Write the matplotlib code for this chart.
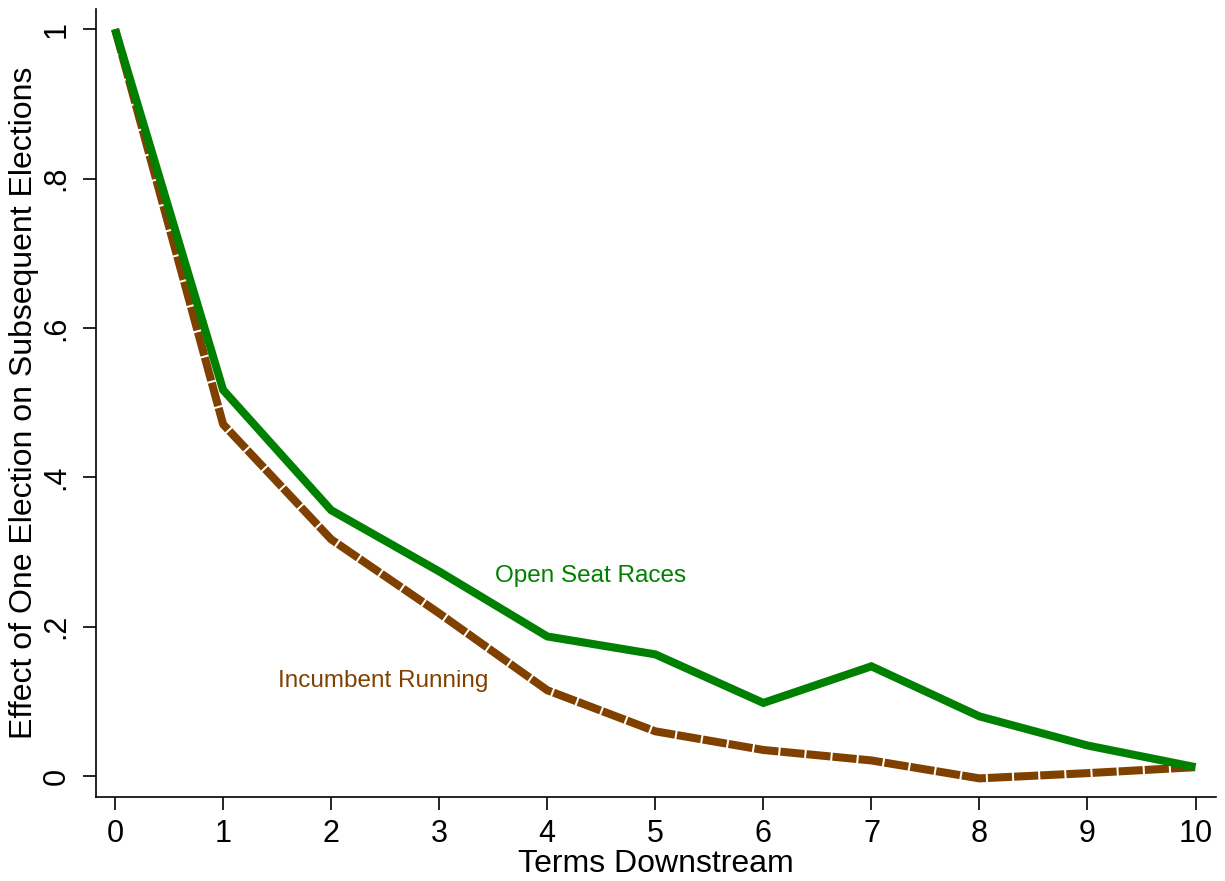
import numpy as np
import matplotlib.pyplot as plt

plt.rcParams['font.family'] = ['Liberation Sans', 'DejaVu Sans']

# Terms downstream and estimated effects
terms = np.arange(0, 11)
open_seat = [1.0, 0.517, 0.356, 0.274, 0.187, 0.163, 0.098, 0.147, 0.080, 0.041, 0.012]
incumbent = [1.0, 0.471, 0.317, 0.218, 0.115, 0.060, 0.035, 0.021, -0.003, 0.004, 0.012]

y_ticks = [0, 0.2, 0.4, 0.6, 0.8, 1.0]
y_tick_labels = ["0", ".2", ".4", ".6", ".8", "1"]

green = "#008000"
brown = "#804000"

fig = plt.figure(figsize=(12.25, 8.81), dpi=100)
ax = fig.add_axes([0.0784, 0.0953, 0.9143, 0.8945])

ax.plot(terms, incumbent, color=brown, lw=5.8, dashes=(3.0, 0.25),
        dash_capstyle="butt", solid_joinstyle="miter", zorder=2)
ax.plot(terms, open_seat, color=green, lw=5.8, solid_capstyle="butt",
        solid_joinstyle="miter", zorder=3)

ax.text(4.4, 0.268, "Open Seat Races", color=green, fontsize=17.5,
        ha="center", va="center")
ax.text(2.48, 0.127, "Incumbent Running", color=brown, fontsize=17.5,
        ha="center", va="center")

ax.set_xlim(-0.176, 10.19)
ax.set_ylim(-0.028, 1.027)
ax.set_xticks(terms)
ax.set_yticks(y_ticks)
ax.set_yticklabels(y_tick_labels, rotation=90, va="center")

ax.spines["top"].set_visible(False)
ax.spines["right"].set_visible(False)
for s in ("left", "bottom"):
    ax.spines[s].set_linewidth(1.2)

ax.tick_params(axis="both", length=9.5, width=1.2, labelsize=22, direction="out")
ax.tick_params(axis="x", pad=6)
ax.tick_params(axis="y", pad=8)

ax.set_xlabel("Terms Downstream", fontsize=23, labelpad=0)
ax.set_ylabel("Effect of One Election on Subsequent Elections", fontsize=23, labelpad=2)

fig.savefig("out.png", dpi=100)
